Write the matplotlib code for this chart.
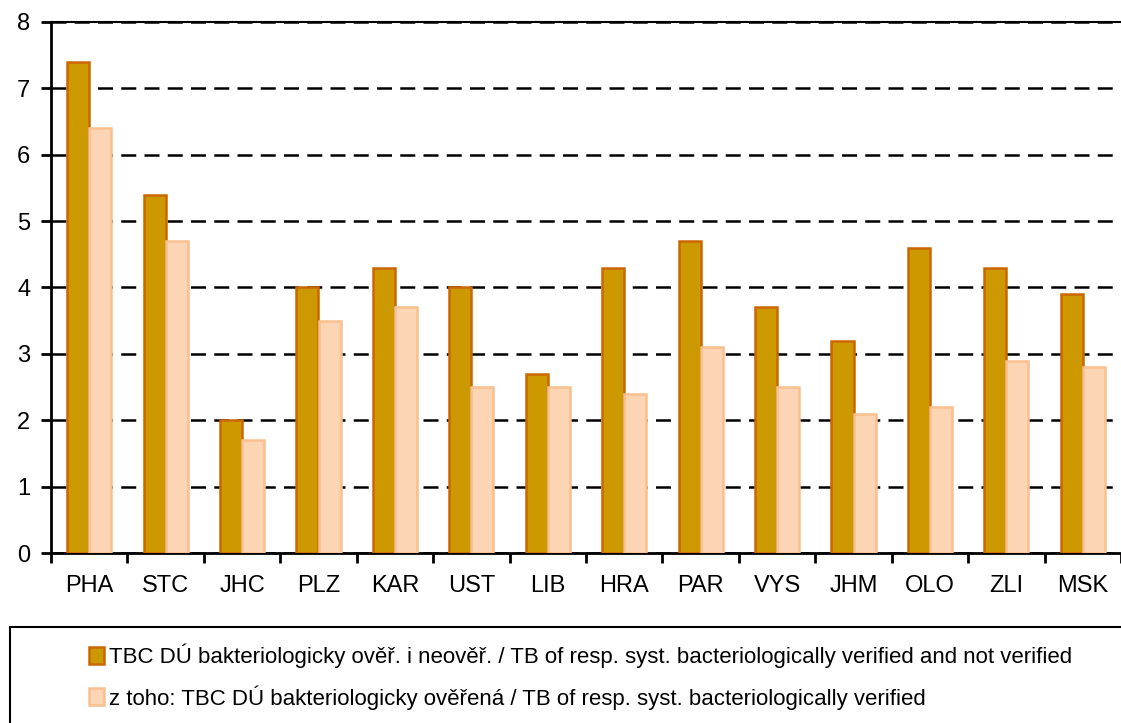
import matplotlib
matplotlib.use("Agg")
import matplotlib.pyplot as plt
import numpy as np
from matplotlib.patches import Rectangle

plt.rcParams["font.family"] = ["Liberation Sans", "DejaVu Sans"]

regions = ["PHA", "STC", "JHC", "PLZ", "KAR", "UST", "LIB", "HRA",
           "PAR", "VYS", "JHM", "OLO", "ZLI", "MSK"]
all_cases = [7.4, 5.4, 2.0, 4.0, 4.3, 4.0, 2.7, 4.3, 4.7, 3.7, 3.2, 4.6, 4.3, 3.9]
verified = [6.4, 4.7, 1.7, 3.5, 3.7, 2.5, 2.5, 2.4, 3.1, 2.5, 2.1, 2.2, 2.9, 2.8]
labels = [
    "TBC DÚ bakteriologicky ověř. i neověř. / TB of resp. syst. bacteriologically verified and not verified",
    "z toho: TBC DÚ bakteriologicky ověřená / TB of resp. syst. bacteriologically verified",
]

W, H = 1121, 723
fig = plt.figure(figsize=(W / 100, H / 100), dpi=100)
ax = fig.add_axes([51 / W, 1 - 553 / H, 1 - 51 / W, (553 - 22) / H])

x = np.arange(len(regions))
bw = 0.288
b1 = ax.bar(x - bw / 2, all_cases, bw, color="#CC9900", edgecolor="#CC6600",
            linewidth=1.8, label=labels[0], zorder=3)
b2 = ax.bar(x + bw / 2, verified, bw, color="#FCD5B4", edgecolor="#FABF8F",
            linewidth=1.8, label=labels[1], zorder=3)

ax.set_xlim(-0.5, len(regions) - 0.5)
ax.set_ylim(0, 8)
ax.set_yticks(range(0, 9))
ax.yaxis.grid(True, color="black", linestyle=(0, (6, 3.3)), linewidth=1.8, zorder=1)
ax.set_axisbelow(True)

ax.set_xticks(x)
ax.set_xticklabels(regions)
ax.set_xticks(np.arange(-0.5, len(regions), 1), minor=True)
ax.tick_params(axis="x", which="major", length=0, pad=16, labelsize=17)
ax.tick_params(axis="x", which="minor", length=7, width=2, direction="out")
ax.tick_params(axis="y", length=7, width=2, labelsize=17, pad=8)

ax.spines["right"].set_visible(False)
ax.spines["top"].set_linewidth(1.5)
ax.spines["left"].set_linewidth(2)
ax.spines["bottom"].set_linewidth(2)

# legend box running off the lower-right edge
fig.patches.append(Rectangle((10 / W, -0.05), 1.2, (723 - 627) / H + 0.05,
                             transform=fig.transFigure, fill=False,
                             edgecolor="black", linewidth=1.5))
fig.legend(handles=[b1, b2], loc="upper left",
           bbox_to_anchor=(80 / W, 1 - 635 / H), frameon=False,
           fontsize=16, handlelength=0.7, handleheight=0.8,
           handletextpad=0.2, labelspacing=0.75, borderaxespad=0)

fig.savefig("out.png", dpi=100)
